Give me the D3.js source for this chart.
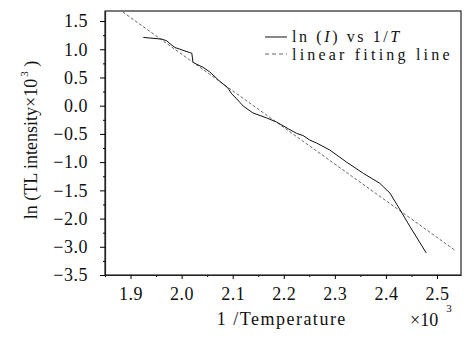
<!DOCTYPE html>
<html>
<head>
<meta charset="utf-8">
<script src="https://cdn.jsdelivr.net/npm/d3@7"></script>
<style>
  body { margin: 0; background: #fff; }
  text { font-family: "Liberation Serif", "DejaVu Serif", serif; fill: #111; }
</style>
</head>
<body>
<div id="chart"></div>
<script>
// ln(I) vs 1/T curve
var invT = [1.925, 1.961, 1.971, 1.977, 1.987, 1.997, 2.016, 2.020, 2.022, 2.026, 2.042, 2.055, 2.072,
            2.091, 2.098, 2.108, 2.121, 2.140, 2.166, 2.186, 2.209, 2.225, 2.238, 2.251, 2.264, 2.290,
            2.323, 2.356, 2.388, 2.408, 2.428, 2.447, 2.479];
var lnI  = [1.21, 1.18, 1.15, 1.10, 1.03, 1.00, 0.94, 0.93, 0.78, 0.75, 0.68, 0.60, 0.455,
            0.31, 0.21, 0.12, -0.01, -0.13, -0.215, -0.29, -0.41, -0.49, -0.53, -0.61, -0.66, -0.785,
            -1.00, -1.20, -1.375, -1.55, -1.85, -2.14, -2.61];

// linear fitting line end points
var fitX = [1.885, 2.535];
var fitY = [1.66, -2.56];

var xTicks = [1.9, 2.0, 2.1, 2.2, 2.3, 2.4, 2.5];
var yTicks = [1.5, 1.0, 0.5, 0.0, -0.5, -1.0, -1.5, -2.0, -2.5, -3.0];
var yTickLabels = ["1.5", "1.0", "0.5", "0.0", "\u22120.5", "\u22121.0", "\u22121.5", "\u22122.0", "\u22123.0", "\u22123.5"];

var margin = {top: 11, right: 11, bottom: 67, left: 105};
var width = 472 - margin.left - margin.right,
    height = 342 - margin.top - margin.bottom;

var root = d3.select("#chart")
            .append("svg")
            .attr("width", 472)
            .attr("height", 342);

var svg = root.append("g")
            .attr("transform", "translate(" + margin.left + "," + margin.top + ")");

var x = d3.scaleLinear()
        .domain([1.85, 2.547])
        .range([0, width]);

var y = d3.scaleLinear()
        .domain([-3.0, 1.678])
        .range([height, 0]);

svg.append("clipPath")
    .attr("id", "clip")
    .append("rect")
    .attr("width", width)
    .attr("height", height);

// frame
svg.append("rect")
    .attr("width", width)
    .attr("height", height)
    .attr("fill", "none")
    .attr("stroke", "#222")
    .attr("stroke-width", 1.2);

// minor ticks
var xMinor = xTicks.map(d => d - 0.05);
var yMinor = yTicks.slice(1).map(d => d + 0.25);

svg.append("g")
    .attr("transform", "translate(0," + height + ")")
    .call(d3.axisBottom(x).tickValues(xMinor).tickSize(2).tickFormat(""))
    .call(g => g.select(".domain").remove());

svg.append("g")
    .call(d3.axisLeft(y).tickValues(yMinor).tickSize(2).tickFormat(""))
    .call(g => g.select(".domain").remove());

var xAxis = svg.append("g")
    .attr("transform", "translate(0," + height + ")")
    .call(d3.axisBottom(x).tickValues(xTicks).tickSizeInner(4).tickSizeOuter(0).tickPadding(8).tickFormat(d3.format(".1f")));
xAxis.select(".domain").attr("stroke", "#222").attr("stroke-width", 1.2);
xAxis.selectAll("text").style("font-size", "18px").style("letter-spacing", "0.5px");

var yAxis = svg.append("g")
    .call(d3.axisLeft(y).tickValues(yTicks).tickSizeInner(5).tickSizeOuter(0).tickPadding(12)
        .tickFormat((d, i) => yTickLabels[i]));
yAxis.select(".domain").attr("stroke", "#222").attr("stroke-width", 1.2);
yAxis.selectAll("text").style("font-size", "18px").style("letter-spacing", "0.5px");

// fitting line
svg.append("path")
    .datum(fitX.map((d, i) => [d, fitY[i]]))
    .attr("clip-path", "url(#clip)")
    .attr("fill", "none")
    .attr("stroke", "#555")
    .attr("stroke-width", 0.9)
    .attr("stroke-dasharray", "3,2")
    .attr("d", d3.line().x(d => x(d[0])).y(d => y(d[1])));

// data curve
svg.append("path")
    .datum(invT.map((d, i) => [d, lnI[i]]))
    .attr("fill", "none")
    .attr("stroke", "#111")
    .attr("stroke-width", 1)
    .attr("d", d3.line().x(d => x(d[0])).y(d => y(d[1])));

// legend
var legend = svg.append("g").attr("transform", "translate(" + (265 - margin.left) + "," + (37 - margin.top) + ")");
legend.append("line").attr("x1", 0).attr("x2", 22).attr("y1", 0).attr("y2", 0)
    .attr("stroke", "#111").attr("stroke-width", 1);
legend.append("line").attr("x1", 0).attr("x2", 22).attr("y1", 17).attr("y2", 17)
    .attr("stroke", "#555").attr("stroke-width", 0.9).attr("stroke-dasharray", "4,3");
var l1 = legend.append("text").attr("x", 27).attr("y", 5).style("font-size", "16px").style("letter-spacing", "2.6px");
l1.append("tspan").text("ln (");
l1.append("tspan").style("font-style", "italic").text("I");
l1.append("tspan").text(") vs 1/");
l1.append("tspan").style("font-style", "italic").text("T");
legend.append("text").attr("x", 27).attr("y", 23).style("font-size", "16px").style("letter-spacing", "3.2px")
    .text("linear fiting line");

// axis titles
root.append("text")
    .attr("x", margin.left + x(2.2) - 2)
    .attr("y", 325)
    .attr("text-anchor", "middle")
    .style("font-size", "18px")
    .style("letter-spacing", "1.5px")
    .text("1 /Temperature");

var xu = root.append("text")
    .attr("x", 410)
    .attr("y", 326)
    .style("font-size", "18px");
xu.append("tspan").text("\u00d710");
xu.append("tspan").attr("dx", 8).attr("dy", -14).style("font-size", "11px").text("3");

var yt = root.append("text")
    .attr("transform", "translate(37,140)rotate(-90)")
    .attr("text-anchor", "middle")
    .style("font-size", "18px");
yt.append("tspan").text("ln (TL intensity\u00d710");
yt.append("tspan").attr("dx", 2).attr("dy", -9).style("font-size", "11px").text("3");
yt.append("tspan").attr("dy", 9).text(" )");
</script>
</body>
</html>
